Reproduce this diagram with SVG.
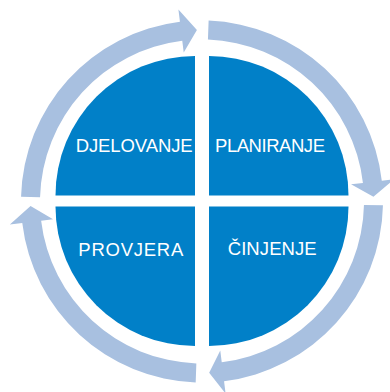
<svg xmlns="http://www.w3.org/2000/svg" width="390" height="392" viewBox="0 0 390 392">
<style>
.q{fill:#0180C8}
.a{fill:#A8C0E0}
.t{font-family:"Liberation Sans",Arial,sans-serif;font-size:18.5px;fill:#FFFFFF;text-anchor:middle}
</style>
<rect width="390" height="392" fill="#FFFFFF"/>
<g id="connectors">
<path class="a" d="M21.06,196.76 A181,181 0 0 1 179.94,21.85 L178.42,9.44 L196.91,30.08 L183.72,52.62 L182.26,40.71 A162,162 0 0 0 40.06,197.26 Z"/>
<path class="a" d="M208.63,20.62 A181,181 0 0 1 381.80,180.70 L394.22,179.26 L373.43,196.71 L351.01,184.26 L362.93,182.88 A162,162 0 0 0 207.94,39.61 Z"/>
<path class="a" d="M382.96,205.29 A181,181 0 0 1 224.06,381.15 L225.58,393.56 L209.18,372.85 L220.28,350.38 L221.74,362.29 A162,162 0 0 0 363.96,204.89 Z"/>
<path class="a" d="M195.68,382.39 A181,181 0 0 1 22.27,222.93 L9.86,224.41 L30.56,205.99 L53.05,219.26 L41.14,220.68 A162,162 0 0 0 196.35,363.40 Z"/>
</g>
<g id="djelovanje">
<path class="q" d="M195,195.5 L55.5,195.5 A139.5,139.5 0 0 1 195,56 Z"/>
<text class="t" x="134.2" y="151.7" textLength="117" lengthAdjust="spacing">DJELOVANJE</text>
</g>
<g id="planiranje">
<path class="q" d="M209,195.5 L209,56 A139.5,139.5 0 0 1 348.5,195.5 Z"/>
<text class="t" x="270" y="152.3" textLength="110" lengthAdjust="spacing">PLANIRANJE</text>
</g>
<g id="cinjenje">
<path class="q" d="M209,206.5 L348.5,206.5 A139.5,139.5 0 0 1 209,346 Z"/>
<text class="t" x="272.2" y="255" textLength="89" lengthAdjust="spacing">ČINJENJE</text>
</g>
<g id="provjera">
<path class="q" d="M195,206.5 L195,346 A139.5,139.5 0 0 1 55.5,206.5 Z"/>
<text class="t" x="130.8" y="255.7" textLength="105" lengthAdjust="spacing">PROVJERA</text>
</g>
</svg>
